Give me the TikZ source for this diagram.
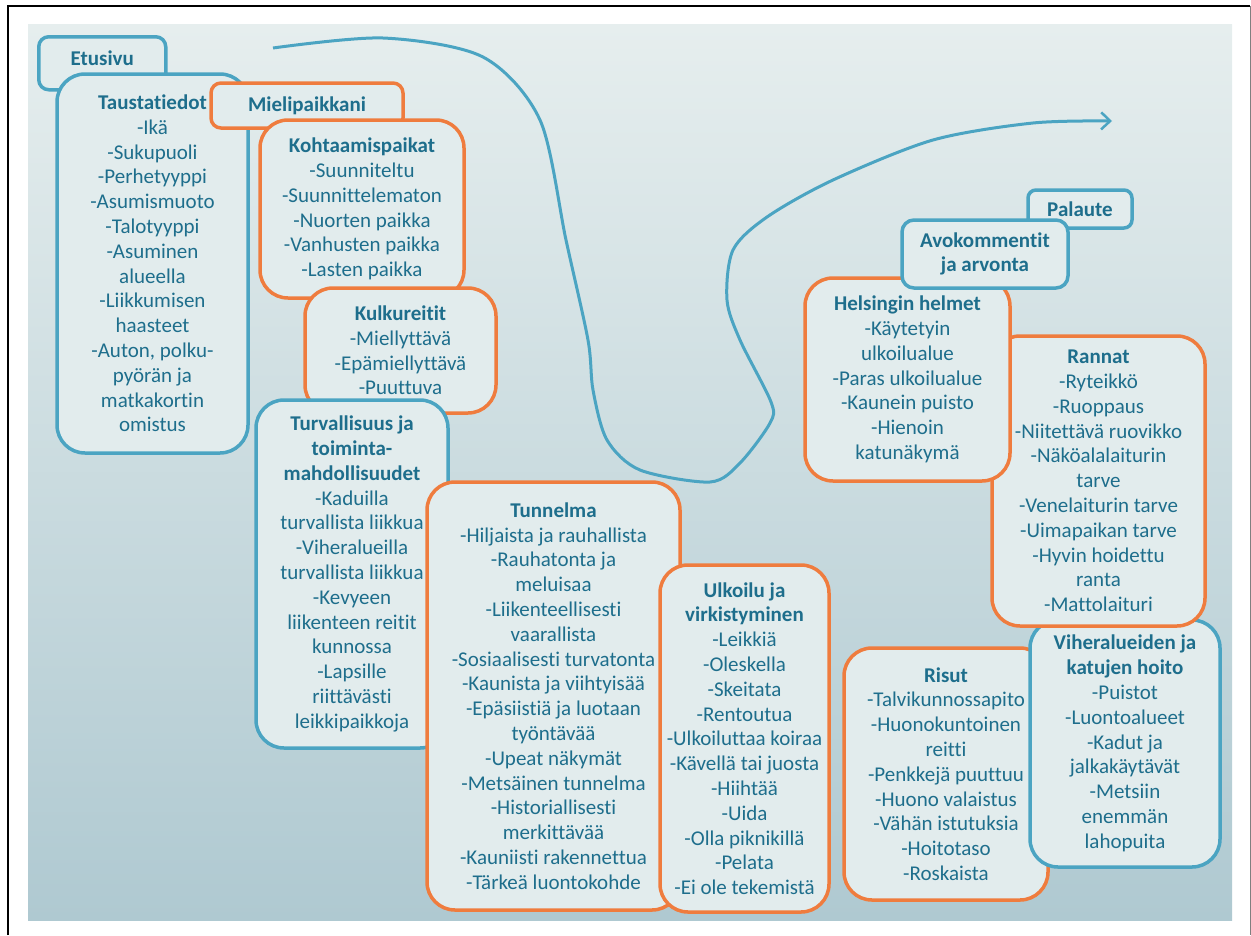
\documentclass[tikz,border=0pt]{standalone}
\usepackage{fontspec}
\setmainfont{Carlito}[Ligatures={NoCommon,NoContextual}]
\usetikzlibrary{arrows.meta}

\definecolor{skyline}{RGB}{75,164,194}
\definecolor{carrot}{RGB}{239,124,62}
\definecolor{ink}{RGB}{30,110,140}
\definecolor{paper}{RGB}{226,236,237}
\definecolor{bgtop}{RGB}{230,238,238}
\definecolor{bgbottom}{RGB}{175,201,209}

\begin{document}
\begin{tikzpicture}[x=1pt,y=-1pt,
	every node/.style={font=\fontsize{21}{24.8}\selectfont,text=ink,align=center},
	box/.style={draw,fill=paper,line width=3.5pt,rounded corners=28pt,inner sep=0pt},
	bluebox/.style={box,draw=skyline},
	orangebox/.style={box,draw=carrot},
	tab/.style={rounded corners=10pt},
	flow/.style={draw=skyline,line width=3pt,-{Straight Barb[length=9pt,width=17pt,line width=2.5pt]}}]
\useasboundingbox (0,0) rectangle (1251,935);
% frame and background
\shade[top color=bgtop,bottom color=bgbottom] (28,24) rectangle (1232,920);
\draw[line width=2.5pt] (8,935) -- (8,6) -- (1250,6);
\draw[gray,line width=1pt] (1250,6) -- (1250,935);
% route through the survey
\draw[flow] plot[smooth,tension=0.5] coordinates {(273,48) (383,38) (483,57) (540,120) (566,240) (588,340)
	(593,390) (607,440) (640,470) (710,482) (740,463) (770,423) (771,402) (740,340) (727,300)
	(733,250) (767,217) (833,180) (933,140) (1033,123) (1112,121)};
% left pages
\node[bluebox,tab,anchor=north west,minimum width=127pt,inner ysep=5pt,text height=24pt,text depth=19pt]
	(etusivu) at (37,35) {\textbf{Etusivu}};
\node[bluebox,minimum width=191pt,minimum height=379pt] (tausta) at (152.5,263.5)
	{\textbf{Taustatiedot}\\-Ikä\\-Sukupuoli\\-Perhetyyppi\\-Asumismuoto\\-Talotyyppi\\-Asuminen\\alueella\\-Liikkumisen\\haasteet\\-Auton, polku-\\pyörän ja\\matkakortin\\omistus};
\node[orangebox,tab,minimum width=192pt,minimum height=45pt] (mieli) at (307,105.5) {\textbf{Mielipaikkani}};
\node[orangebox,minimum width=204pt,minimum height=178pt] (kohtaamis) at (362,209)
	{\textbf{Kohtaamispaikat}\\-Suunniteltu\\-Suunnittelematon\\-Nuorten paikka\\-Vanhusten paikka\\-Lasten paikka};
\node[orangebox,minimum width=191pt,minimum height=125pt] (kulku) at (400.5,350.5)
	{\textbf{Kulkureitit}\\-Miellyttävä\\-Epämiellyttävä\\-Puuttuva};
\node[bluebox,minimum width=192pt,minimum height=348pt] (turva) at (352,574)
	{\textbf{Turvallisuus ja}\\\textbf{toiminta-}\\\textbf{mahdollisuudet}\\-Kaduilla\\turvallista liikkua\\-Viheralueilla\\turvallista liikkua\\-Kevyeen\\liikenteen reitit\\kunnossa\\-Lapsille\\riittävästi\\leikkipaikkoja};
\node[orangebox,minimum width=253pt,minimum height=428pt] (tunnelma) at (553.5,696)
	{\textbf{Tunnelma}\\-Hiljaista ja rauhallista\\-Rauhatonta ja\\meluisaa\\-Liikenteellisesti\\vaarallista\\-Sosiaalisesti turvatonta\\-Kaunista ja viihtyisää\\-Epäsiistiä ja luotaan\\työntävää\\-Upeat näkymät\\-Metsäinen tunnelma\\-Historiallisesti\\merkittävää\\-Kauniisti rakennettua\\-Tärkeä luontokohde};
\node[orangebox,minimum width=169pt,minimum height=347pt] (ulkoilu) at (744.5,738.5)
	{\textbf{Ulkoilu ja}\\\textbf{virkistyminen}\\-Leikkiä\\-Oleskella\\-Skeitata\\-Rentoutua\\-Ulkoiluttaa koiraa\\-Kävellä tai juosta\\-Hiihtää\\-Uida\\-Olla piknikillä\\-Pelata\\-Ei ole tekemistä};
\node[orangebox,minimum width=204pt,minimum height=252pt] (risut) at (946,774)
	{\textbf{Risut}\\-Talvikunnossapito\\-Huonokuntoinen\\reitti\\-Penkkejä puuttuu\\-Huono valaistus\\-Vähän istutuksia\\-Hoitotaso\\-Roskaista};
% right pages
\node[bluebox,minimum width=190pt,minimum height=247pt] (hoito) at (1125,743.5)
	{\textbf{Viheralueiden ja}\\\textbf{katujen hoito}\\-Puistot\\-Luontoalueet\\-Kadut ja\\jalkakäytävät\\-Metsiin\\enemmän\\lahopuita};
\node[orangebox,minimum width=213pt,minimum height=290pt] (rannat) at (1098.5,481)
	{\textbf{Rannat}\\-Ryteikkö\\-Ruoppaus\\-Niitettävä ruovikko\\-Näköalalaiturin\\tarve\\-Venelaiturin tarve\\-Uimapaikan tarve\\-Hyvin hoidettu\\ranta\\-Mattolaituri};
\node[orangebox,minimum width=205pt,minimum height=203pt] (helmet) at (907.5,379.5)
	{\textbf{Helsingin helmet}\\-Käytetyin\\ulkoilualue\\-Paras ulkoilualue\\-Kaunein puisto\\-Hienoin\\katunäkymä};
\node[bluebox,rounded corners=8pt,minimum width=104pt,minimum height=38pt] (palaute) at (1080,209) {\textbf{Palaute}};
\node[bluebox,rounded corners=12pt,minimum width=166pt,minimum height=68pt] (avo) at (985,254)
	{\textbf{Avokommentit}\\\textbf{ja arvonta}};
\end{tikzpicture}
\end{document}
